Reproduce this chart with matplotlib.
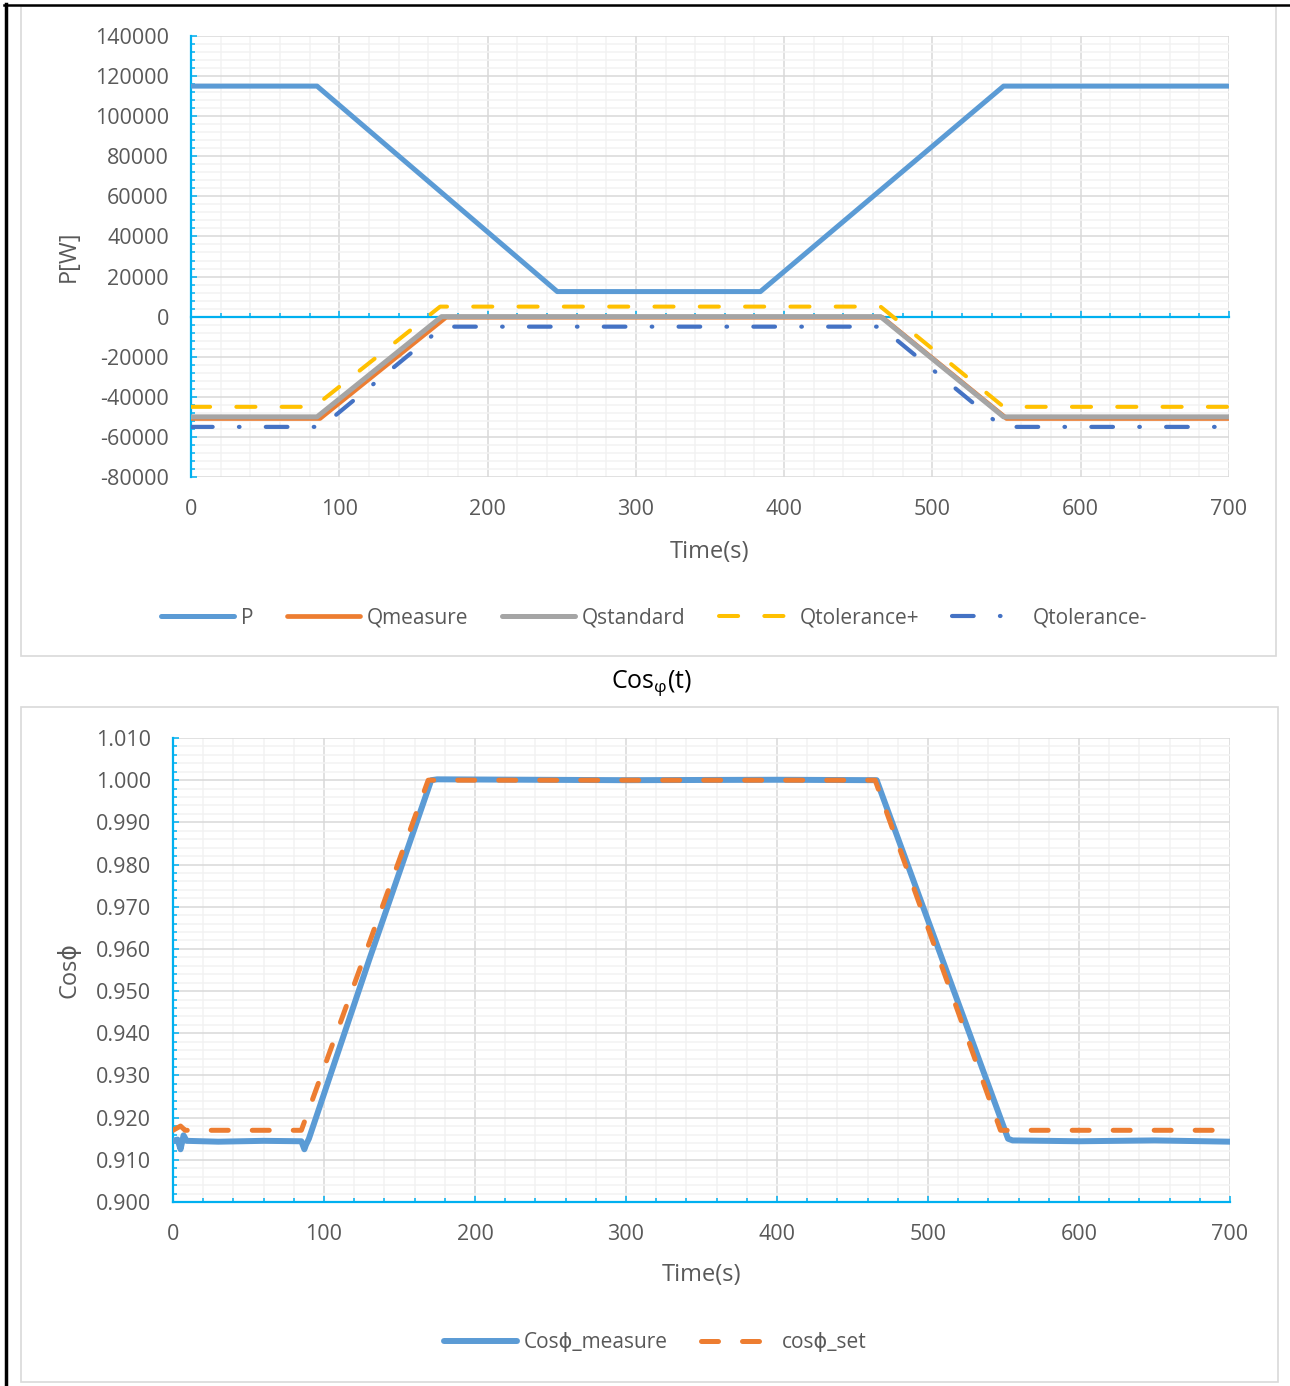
import matplotlib
matplotlib.use("Agg")
import matplotlib.pyplot as plt
from matplotlib.lines import Line2D
from matplotlib.patches import Rectangle
from matplotlib.ticker import MultipleLocator, FixedLocator

plt.rcParams['font.family'] = ['Open Sans', 'DejaVu Sans']
plt.rcParams['axes.unicode_minus'] = False

# ---- data: top chart (time s, value W / var) ----
t_p = [0, 7, 85, 247, 384, 548, 700]
v_p = [115000, 115000, 115000, 12500, 12500, 115000, 115000]

t_qm = [0, 87, 172, 466, 550, 700]
v_qm = [-50800, -50800, -300, -300, -50800, -50800]

t_qs = [0, 85, 169, 465, 548, 700]
v_qs = [-50000, -50000, 0, 0, -50000, -50000]

t_qtp = [0, 83, 168, 465, 548, 700]
v_qtp = [-45000, -45000, 5000, 5000, -45000, -45000]

t_qtm = [0, 88, 170, 465, 547, 700]
v_qtm = [-55000, -55000, -5000, -5000, -55000, -55000]

x_ticks = [0, 100, 200, 300, 400, 500, 600, 700]

# ---- data: bottom chart (cos phi) ----
t_cm = [0, 3, 5, 7, 9, 30, 60, 85, 87, 88, 90, 130, 171, 175, 300, 400, 466,
        510, 553, 556, 600, 650, 700]
v_cm = [0.9145, 0.9148, 0.9125, 0.9158, 0.9145, 0.9143, 0.9145, 0.9144, 0.9125,
        0.9135, 0.9150, 0.9575, 1.0000, 1.0002, 1.0000, 1.0001, 1.0000,
        0.9570, 0.9150, 0.9146, 0.9144, 0.9146, 0.9143]

t_cs = [0, 5, 8, 85, 169, 465, 548, 700]
v_cs = [0.9170, 0.9180, 0.9170, 0.9170, 1.0000, 1.0000, 0.9170, 0.9170]

AXC = "#00B0F0"
TXT = "#595959"
MAJ = "#D9D9D9"
MIN = "#F2F2F2"
TS = 15.5

fig = plt.figure(figsize=(12.9, 13.86), dpi=100)
W, H = 1290, 1386


def fx(px):
    return px / W


def fy(py):
    return 1 - py / H


# outer frames and page border
fig.patches.append(Rectangle((fx(21), fy(656)), fx(1276) - fx(21), fy(6) - fy(656),
                             transform=fig.transFigure, fill=False, ec=MAJ, lw=1.2))
fig.patches.append(Rectangle((fx(21), fy(1382)), fx(1278) - fx(21), fy(707) - fy(1382),
                             transform=fig.transFigure, fill=False, ec=MAJ, lw=1.2))
fig.lines.append(Line2D([fx(5.5), fx(5.5)], [fy(4), 0], transform=fig.transFigure,
                        color="black", lw=2.5))
fig.lines.append(Line2D([fx(4), 1], [fy(5), fy(5)], transform=fig.transFigure,
                        color="black", lw=1.8))


def style(ax):
    ax.set_axisbelow(True)
    ax.xaxis.set_major_locator(FixedLocator(x_ticks))
    ax.xaxis.set_minor_locator(MultipleLocator(20))
    ax.grid(which="major", color=MAJ, lw=1.1)
    ax.grid(which="minor", color=MIN, lw=1.1)
    for s in ["top", "right"]:
        ax.spines[s].set_visible(False)
    ax.spines["left"].set_color(AXC)
    ax.spines["left"].set_linewidth(1.6)
    ax.spines["bottom"].set_color(AXC)
    ax.spines["bottom"].set_linewidth(1.6)
    ax.tick_params(which="both", direction="in", color=AXC, width=1.1,
                   labelcolor=TXT, labelsize=TS)
    ax.tick_params(which="major", length=4.5)
    ax.tick_params(which="minor", length=3)
    ax.tick_params(axis="y", which="major", pad=16)
    ax.set_xlim(0, 700)


# ---------------- top chart ----------------
ax1 = fig.add_axes([fx(191), fy(477), fx(1229) - fx(191), fy(36) - fy(477)])
style(ax1)
ax1.set_ylim(-80000, 140000)
ax1.yaxis.set_major_locator(MultipleLocator(20000))
ax1.yaxis.set_minor_locator(MultipleLocator(4000))
ax1.spines["bottom"].set_position(("data", 0))
ax1.tick_params(axis="x", which="both", labelbottom=False)

sec = ax1.secondary_xaxis("bottom")
sec.xaxis.set_major_locator(FixedLocator(x_ticks))
sec.spines["bottom"].set_visible(False)
sec.tick_params(length=0, labelcolor=TXT, labelsize=TS, pad=16)
sec.set_xlabel("Time(s)", color=TXT, fontsize=17, labelpad=14)

l1, = ax1.plot(t_p, v_p, color="#5B9BD5", lw=3.6, solid_capstyle="round", zorder=3)
l2, = ax1.plot(t_qm, v_qm, color="#ED7D31", lw=3.4, solid_capstyle="round", zorder=3)
l3, = ax1.plot(t_qs, v_qs, color="#A5A5A5", lw=3.6, solid_capstyle="round", zorder=3)
l4, = ax1.plot(t_qtp, v_qtp, color="#FFC000", lw=2.9, dash_capstyle="round",
               linestyle=(0, (4.75, 6.5)), zorder=3)
l5, = ax1.plot(t_qtm, v_qtm, color="#4472C4", lw=3.0, dash_capstyle="round",
               linestyle=(0, (5.2, 6.3, 0.15, 6.3)), zorder=3)
ax1.set_ylabel("P[W]", color=TXT, fontsize=17, labelpad=10)

fig.legend([l1, l2, l3, l4, l5],
           ["P", "Qmeasure", "Qstandard", "Qtolerance+", "Qtolerance-"],
           loc="center", bbox_to_anchor=(fx(654), fy(618)), ncol=5, frameon=False,
           handlelength=3.5, handletextpad=0.35, columnspacing=1.6,
           prop={"size": 15}, labelcolor=TXT)

fig.text(fx(651), fy(683), "Cos$_{\\mathregular{φ}}$(t)", ha="center", va="center",
         fontsize=18, color="black")

# ---------------- bottom chart ----------------
ax2 = fig.add_axes([fx(173), fy(1202), fx(1230) - fx(173), fy(738) - fy(1202)])
style(ax2)
ax2.set_ylim(0.900, 1.010)
ax2.yaxis.set_major_locator(MultipleLocator(0.010))
ax2.yaxis.set_minor_locator(MultipleLocator(0.002))
ax2.yaxis.set_major_formatter(lambda v, pos: f"{v:.3f}")
ax2.tick_params(axis="x", which="major", pad=16)

m1, = ax2.plot(t_cm, v_cm, color="#5B9BD5", lw=4.3, solid_capstyle="round", zorder=3)
m2, = ax2.plot(t_cs, v_cs, color="#ED7D31", lw=3.6, dash_capstyle="round",
               linestyle=(0, (3.4, 4.8)), zorder=4)
ax2.set_xlabel("Time(s)", color=TXT, fontsize=17, labelpad=13)
ax2.set_ylabel("Cosϕ", color=TXT, fontsize=17, labelpad=10)

fig.legend([m1, m2], ["Cosϕ_measure", "cosϕ_set"],
           loc="center", bbox_to_anchor=(fx(655), fy(1343)), ncol=2, frameon=False,
           handlelength=3.5, handletextpad=0.35, columnspacing=1.6,
           prop={"size": 15}, labelcolor=TXT)

fig.savefig("out.png", dpi=100)
